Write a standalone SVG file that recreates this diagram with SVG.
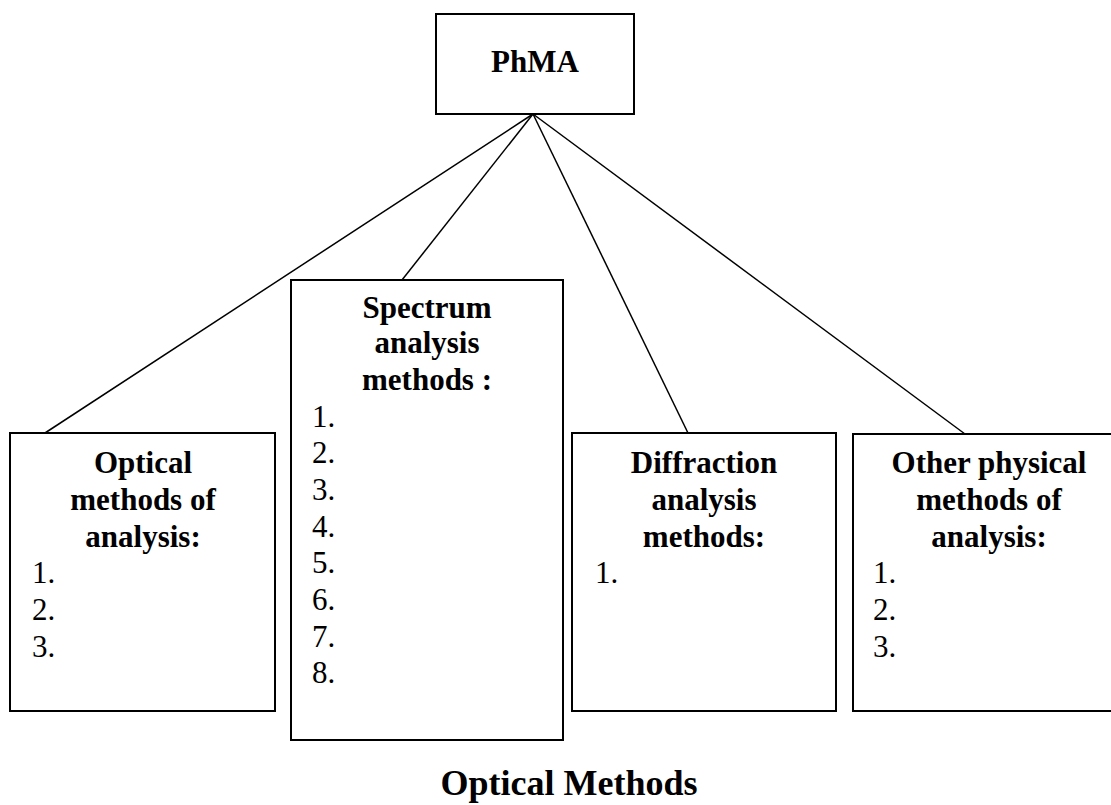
<svg xmlns="http://www.w3.org/2000/svg" width="1111" height="805" viewBox="0 0 1111 805">
<style>
.box{fill:#fff;stroke:#000;stroke-width:2}
.con{stroke:#000;stroke-width:1.5;fill:none}
.h{font-family:"Liberation Serif","Times New Roman",serif;font-weight:bold;font-size:31px;text-anchor:middle;fill:#000}
.n{font-family:"Liberation Serif","Times New Roman",serif;font-size:31px;fill:#000}
.t{font-family:"Liberation Serif","Times New Roman",serif;font-weight:bold;font-size:36px;text-anchor:middle;fill:#000}
</style>
<rect width="1111" height="805" fill="#fff"/>
<g id="connectors">
<line class="con" x1="533" y1="114" x2="45" y2="433"/>
<line class="con" x1="533" y1="114" x2="402" y2="280"/>
<line class="con" x1="533" y1="114" x2="688" y2="433"/>
<line class="con" x1="533" y1="114" x2="965" y2="434"/>
</g>
<g id="phma">
<rect class="box" x="436" y="14" width="198" height="100"/>
<text class="h" x="535" y="72">PhMA</text>
</g>
<g id="optical">
<rect class="box" x="10" y="433" width="265" height="278"/>
<text class="h" x="143" y="473">Optical</text>
<text class="h" x="143" y="510">methods of</text>
<text class="h" x="143" y="547">analysis:</text>
<text class="n" x="32" y="583">1.</text>
<text class="n" x="32" y="620">2.</text>
<text class="n" x="32" y="657">3.</text>
</g>
<g id="spectrum">
<rect class="box" x="291" y="280" width="272" height="460"/>
<text class="h" x="427" y="318">Spectrum</text>
<text class="h" x="427" y="353">analysis</text>
<text class="h" x="427" y="390">methods :</text>
<text class="n" x="312" y="427">1.</text>
<text class="n" x="312" y="463">2.</text>
<text class="n" x="312" y="500">3.</text>
<text class="n" x="312" y="537">4.</text>
<text class="n" x="312" y="573">5.</text>
<text class="n" x="312" y="610">6.</text>
<text class="n" x="312" y="647">7.</text>
<text class="n" x="312" y="683">8.</text>
</g>
<g id="diffraction">
<rect class="box" x="572" y="433" width="264" height="278"/>
<text class="h" x="704" y="473">Diffraction</text>
<text class="h" x="704" y="510">analysis</text>
<text class="h" x="704" y="547">methods:</text>
<text class="n" x="595" y="583">1.</text>
</g>
<g id="other">
<rect class="box" x="853" y="434" width="272" height="277"/>
<text class="h" x="989" y="473">Other physical</text>
<text class="h" x="989" y="510">methods of</text>
<text class="h" x="989" y="547">analysis:</text>
<text class="n" x="873" y="583">1.</text>
<text class="n" x="873" y="620">2.</text>
<text class="n" x="873" y="657">3.</text>
</g>
<g id="title">
<text class="t" x="569" y="795">Optical Methods</text>
</g>
</svg>
